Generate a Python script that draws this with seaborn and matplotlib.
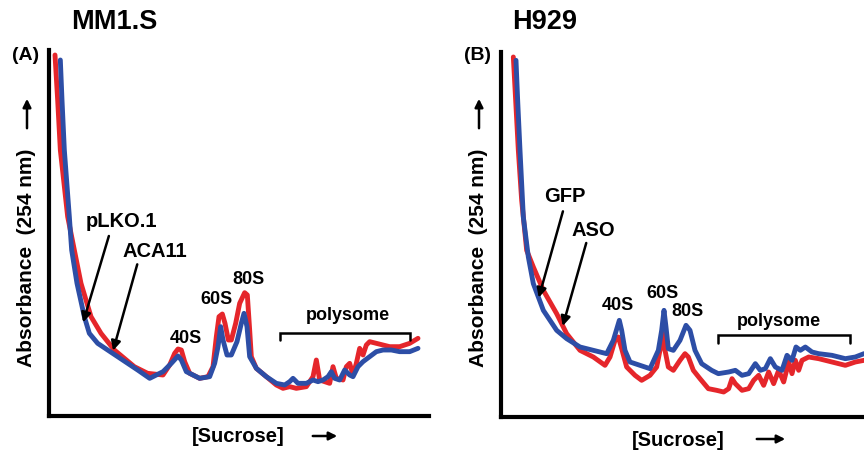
import pandas as pd
import seaborn as sns
import matplotlib.pyplot as plt
from matplotlib.patches import FancyArrowPatch

# polysome profiles, gradient position (a.u.) vs A254 (a.u.)
# panel A: MM1.S  (red = pLKO.1, blue = ACA11)
a_red_x = [16, 24, 32, 54, 74, 94, 124, 154, 194, 254, 294,
           340, 360, 375, 385, 395, 405, 420, 450, 475, 490,
           500, 508, 518, 526, 536, 545, 558, 570, 585, 593,
           600, 605, 620, 650, 680, 700, 720, 740, 770, 790,
           800, 810, 840, 850, 860, 880, 890, 900, 910, 920,
           930, 940, 950, 960, 980, 1000, 1020, 1050, 1080, 1105]
a_red_y = [1085, 950, 800, 600, 500, 400, 300, 250, 200, 150, 130,
           125, 155, 190, 203, 200, 165, 130, 115, 120, 150,
           240, 300, 308, 280, 230, 230, 280, 340, 372, 365,
           260, 180, 145, 120, 95, 85, 90, 85, 90, 120,
           170, 110, 100, 150, 115, 110, 150, 160, 125, 160,
           205, 185, 215, 225, 220, 215, 210, 210, 220, 235]
a_blue_x = [32, 37, 44, 59, 66, 82, 104, 119, 144, 174, 234,
            264, 300, 340, 365, 385, 395, 410, 450, 480, 495,
            505, 513, 520, 532, 545, 562, 575, 583, 592, 600,
            620, 650, 680, 705, 720, 730, 745, 770, 790, 805,
            820, 835, 845, 855, 870, 885, 900, 910, 925, 940,
            960, 980, 1000, 1025, 1050, 1080, 1105]
a_blue_y = [1070, 950, 800, 600, 500, 400, 300, 250, 220, 200, 160,
            140, 115, 135, 160, 182, 170, 135, 115, 120, 160,
            210, 270, 230, 185, 185, 225, 280, 310, 270, 180,
            145, 120, 100, 95, 105, 115, 100, 100, 110, 105,
            110, 120, 135, 115, 110, 140, 125, 120, 150, 165,
            180, 195, 200, 200, 195, 195, 205]

# panel B: H929  (red = ASO, blue = GFP)
b_red_x = [37, 44, 52, 62, 77, 97, 127, 167, 197, 237, 277,
           312, 327, 342, 352, 362, 377, 402, 422, 447, 467,
           479, 484, 492, 502, 517, 537, 552, 562, 577, 597,
           622, 647, 668, 683, 693, 703, 723, 743, 758, 773,
           788, 803, 818, 833, 848, 863, 873, 883, 893, 903,
           923, 953, 993, 1033, 1063, 1089]
b_red_y = [1080, 950, 800, 650, 500, 450, 380, 310, 250, 200, 180,
           155, 180, 230, 240, 205, 150, 125, 110, 125, 150,
           210, 255, 200, 150, 140, 170, 190, 180, 140, 115,
           85, 80, 75, 85, 115, 100, 80, 85, 110, 125,
           95, 135, 100, 140, 105, 165, 130, 170, 140, 170,
           180, 175, 165, 155, 165, 170]
b_blue_x = [45, 50, 57, 67, 82, 97, 127, 167, 197, 237, 277,
            317, 337, 355, 362, 372, 387, 417, 447, 472, 482,
            489, 495, 502, 517, 537, 555, 567, 582, 602, 632,
            652, 683, 703, 723, 743, 763, 778, 793, 808, 823,
            843, 858, 873, 885, 898, 913, 933, 953, 993, 1033,
            1063, 1089]
b_blue_y = [1070, 950, 800, 600, 480, 400, 320, 260, 235, 210, 200,
            190, 230, 290, 260, 200, 165, 155, 145, 200, 260,
            320, 270, 205, 200, 230, 275, 260, 200, 160, 140,
            130, 135, 140, 125, 130, 160, 140, 145, 175, 150,
            140, 185, 170, 210, 200, 210, 195, 190, 185, 175,
            180, 190]

RED = '#e5262b'
BLUE = '#2d4ea6'

sns.set_style('white')
plt.rcParams['font.family'] = ['Liberation Sans', 'DejaVu Sans']
plt.rcParams['font.weight'] = 'bold'
plt.rcParams['text.color'] = 'black'

W, H = 864, 450
fig = plt.figure(figsize=(W / 100, H / 100), dpi=100)


def fx(x):
    return x / W


def fy(y):
    return 1 - y / H


def profile(ax, red_x, red_y, blue_x, blue_y):
    red = pd.DataFrame({'pos': red_x, 'A254': red_y})
    blue = pd.DataFrame({'pos': blue_x, 'A254': blue_y})
    kw = dict(lw=3.5, estimator=None, sort=False, ax=ax, solid_joinstyle='round', solid_capstyle='round')
    sns.lineplot(data=red, x='pos', y='A254', color=RED, **kw)
    sns.lineplot(data=blue, x='pos', y='A254', color=BLUE, **kw)
    sns.despine(ax=ax, top=True, right=True)
    for s in ['left', 'bottom']:
        ax.spines[s].set_linewidth(3)
        ax.spines[s].set_color('black')
    ax.set_xticks([])
    ax.set_yticks([])
    ax.set_xlabel('')
    ax.set_ylabel('')
    ax.patch.set_alpha(0)


def bracket(ax, x0, x1, y, tick):
    ax.plot([x0, x0, x1, x1], [y - tick, y, y, y - tick], color='black', lw=1.8, solid_joinstyle='miter')


def arrow(ax, text, txy, start, end, size=14.5):
    ax.text(txy[0], txy[1], text, ha='center', va='center', fontsize=size, fontweight='bold')
    ax.annotate('', xy=end, xytext=start,
                arrowprops=dict(arrowstyle='-|>', color='black', lw=1.8, mutation_scale=14))


# panel A
axA = fig.add_axes([fx(49), fy(416), fx(380), fy(50) - fy(416)])
profile(axA, a_red_x, a_red_y, a_blue_x, a_blue_y)
axA.set_xlim(-2, 1138)
axA.set_ylim(2, 1100)
arrow(axA, 'pLKO.1', (215, 585), (180, 550), (98, 275))
arrow(axA, 'ACA11', (315, 495), (265, 465), (188, 190))
for lab, x, y in [('40S', 410, 235), ('60S', 502, 350), ('80S', 598, 410), ('polysome', 895, 305)]:
    axA.text(x, y, lab, ha='center', va='center', fontsize=13, fontweight='bold')
bracket(axA, 690, 1082, 250, 20)

# panel B
axB = fig.add_axes([fx(501), fy(417), fx(363), fy(52) - fy(417)])
profile(axB, b_red_x, b_red_y, b_blue_x, b_blue_y)
axB.set_xlim(0, 1089)
axB.set_ylim(0, 1095)
arrow(axB, 'GFP', (193, 660), (188, 625), (111, 350))
arrow(axB, 'ASO', (278, 560), (258, 530), (183, 265))
for lab, x, y in [('40S', 351, 335), ('60S', 485, 370), ('80S', 561, 315), ('polysome', 833, 285)]:
    axB.text(x, y, lab, ha='center', va='center', fontsize=13, fontweight='bold')
bracket(axB, 651, 1046, 247, 25)

# titles and panel letters
fig.text(fx(114), fy(22), 'MM1.S', ha='center', va='center', fontsize=19.5, fontweight='bold')
fig.text(fx(545), fy(22), 'H929', ha='center', va='center', fontsize=19.5, fontweight='bold')
fig.text(fx(26), fy(55), '(A)', ha='center', va='center', fontsize=14, fontweight='bold')
fig.text(fx(477), fy(55), '(B)', ha='center', va='center', fontsize=14, fontweight='bold')

# axis labels with arrows
arrow_kw = dict(arrowstyle='-|>', color='black', lw=1.8, mutation_scale=12)
for xl in [27, 479]:
    fig.text(fx(xl), fy(258), 'Absorbance  (254 nm)', rotation=90, ha='center', va='center',
             fontsize=15, fontweight='bold')
    fig.add_artist(FancyArrowPatch((fx(xl), fy(131)), (fx(xl), fy(96)),
                                   transform=fig.transFigure, **arrow_kw))

for cx, ax0, ax1, yy in [(238, 310, 340, 437), (678, 754, 788, 440)]:
    fig.text(fx(cx), fy(yy), '[Sucrose]', ha='center', va='center', fontsize=14.5, fontweight='bold')
    fig.add_artist(FancyArrowPatch((fx(ax0), fy(yy - 1)), (fx(ax1), fy(yy - 1)),
                                   transform=fig.transFigure, **arrow_kw))

fig.savefig('out.png', dpi=100)
